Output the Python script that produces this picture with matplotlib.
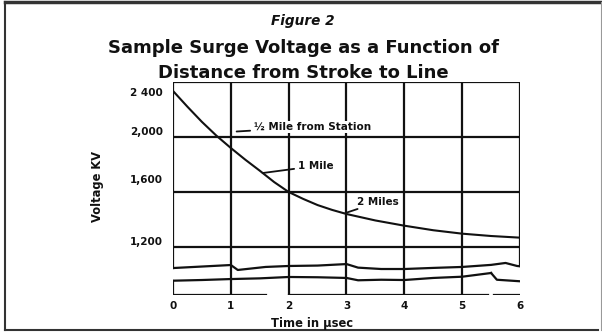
import numpy as np
import matplotlib
matplotlib.use("Agg")
import matplotlib.pyplot as plt
from matplotlib.lines import Line2D

plt.rcParams['font.family'] = ['DejaVu Sans']

# surge voltage curve (kV) vs time (usec)
t = [0, 0.25, 0.5, 0.75, 1, 1.25, 1.5, 1.75, 2, 2.25, 2.5, 2.75, 3, 3.5, 4, 4.5, 5, 5.5, 6]
kv = [2335, 2220, 2110, 2010, 1920, 1835, 1755, 1672, 1600, 1550, 1505, 1470, 1440,
      1393, 1355, 1322, 1297, 1280, 1268]

ytick_vals = [2400, 2000, 1600, 1200]
ytick_labels = ['2 400', '2,000', '1,600', '1,200']
xtick_vals = [0, 1, 2, 3, 4, 5, 6]

# axis break (wavy lines below 1,200)
brk_hi_t = [0, 1, 1.12, 1.6, 2, 2.5, 3, 3.2, 3.6, 4, 4.5, 5, 5.5, 5.75, 5.95, 6]
brk_hi_kv = [1047, 1069, 1033, 1055, 1062, 1065, 1076, 1050, 1040, 1040, 1048, 1055, 1070, 1084, 1062, 1060]
brk_lo_t = [0, 0.5, 1, 1.5, 2, 2.5, 3, 3.2, 3.6, 4, 4.5, 5, 5.5]
brk_lo_kv = [955, 960, 967, 972, 982, 980, 975, 958, 962, 960, 975, 984, 1011]

labels = ['\u00bd Mile from Station', '1 Mile', '2 Miles']
label_pos = [(1.40, 2073), (2.16, 1789), (3.19, 1527)]
label_tip = [(1.10, 2040), (1.55, 1738), (2.98, 1447)]

fig = plt.figure(figsize=(6.02, 3.33), dpi=100)
ax = fig.add_axes([173/602, 1 - 295/333, 347/602, 213/333])
ax.set_xlim(0, 6)
ax.set_ylim(851, 2400)
ax.axis('off')

ink = '#111111'
lw = 1.6

# grid
for x in xtick_vals[1:-1]:
    ax.plot([x, x], [851, 2400], color=ink, lw=lw, solid_capstyle='butt')
for y in ytick_vals:
    ax.plot([0, 6], [y, y], color=ink, lw=lw, solid_capstyle='butt')
# side borders, broken at the wavy section
ax.plot([0, 0], [brk_hi_kv[0], 2400], color=ink, lw=lw)
ax.plot([0, 0], [851, brk_lo_kv[0]], color=ink, lw=lw)
ax.plot([6, 6], [brk_hi_kv[-1], 2400], color=ink, lw=lw)

ax.plot(brk_hi_t, brk_hi_kv, color=ink, lw=lw)
ax.plot(brk_lo_t, brk_lo_kv, color=ink, lw=lw)
# bottom line and bracket at right end
ax.plot([0, 1.6], [851, 851], color=ink, lw=lw)
ax.plot([2, 5.45], [853, 853], color=ink, lw=lw)
ax.plot([5.5, 5.6, 6.03, 6.03, 5.55], [1011, 962, 950, 851, 851], color=ink, lw=lw)

ax.plot(t, kv, color=ink, lw=1.5)

# curve labels with leader lines
for txt, (tx, ty), tip in zip(labels, label_pos, label_tip):
    ax.annotate(txt, xy=tip, xytext=(tx, ty), fontsize=7.5, fontweight='bold',
                va='center', ha='left', color=ink,
                bbox=dict(boxstyle='square,pad=0.1', fc='white', ec='none'),
                arrowprops=dict(arrowstyle='-', color=ink, lw=1.3, shrinkA=2, shrinkB=0))

# y tick labels
yoff = [-11, 5, 12, 5]
for v, s, o in zip(ytick_vals, ytick_labels, yoff):
    ax.annotate(s, xy=(0, v), xytext=(-10, o), textcoords='offset pixels',
                ha='right', va='center', fontsize=7.5, fontweight='bold', color=ink)
for x in xtick_vals:
    ax.annotate(str(x), xy=(x, 851), xytext=(0, -11), textcoords='offset pixels',
                ha='center', va='center', fontsize=7.5, fontweight='bold', color=ink)

fig.text(312/602, 1 - 323/333, 'Time in \u00b5sec', ha='center', va='center',
         fontsize=8.3, fontweight='bold', color=ink)
fig.text(97/602, 1 - 187/333, 'Voltage KV', ha='center', va='center', rotation=90,
         fontsize=8.3, fontweight='bold', color=ink)

fig.text(303/602, 1 - 21/333, 'Figure 2', ha='center', va='center',
         fontsize=9.8, fontweight='bold', style='italic', color=ink)
fig.text(304/602, 1 - 48/333, 'Sample Surge Voltage as a Function of', ha='center',
         va='center', fontsize=13, fontweight='bold', color=ink)
fig.text(303/602, 1 - 73/333, 'Distance from Stroke to Line', ha='center',
         va='center', fontsize=13, fontweight='bold', color=ink)

# outer frame
fig.add_artist(Line2D([5/602, 600/602], [1 - 2/333, 1 - 2/333], color='#333333', lw=2.5))
fig.add_artist(Line2D([5/602, 5/602], [1 - 2/333, 1 - 330/333], color='#333333', lw=1.5))
fig.add_artist(Line2D([5/602, 598/602], [1 - 330/333, 1 - 330/333], color='#333333', lw=1.5))
fig.add_artist(Line2D([600.5/602, 600.5/602], [1 - 2/333, 1 - 330/333], color='#999999', lw=0.8))

fig.savefig('out.png', dpi=100)
